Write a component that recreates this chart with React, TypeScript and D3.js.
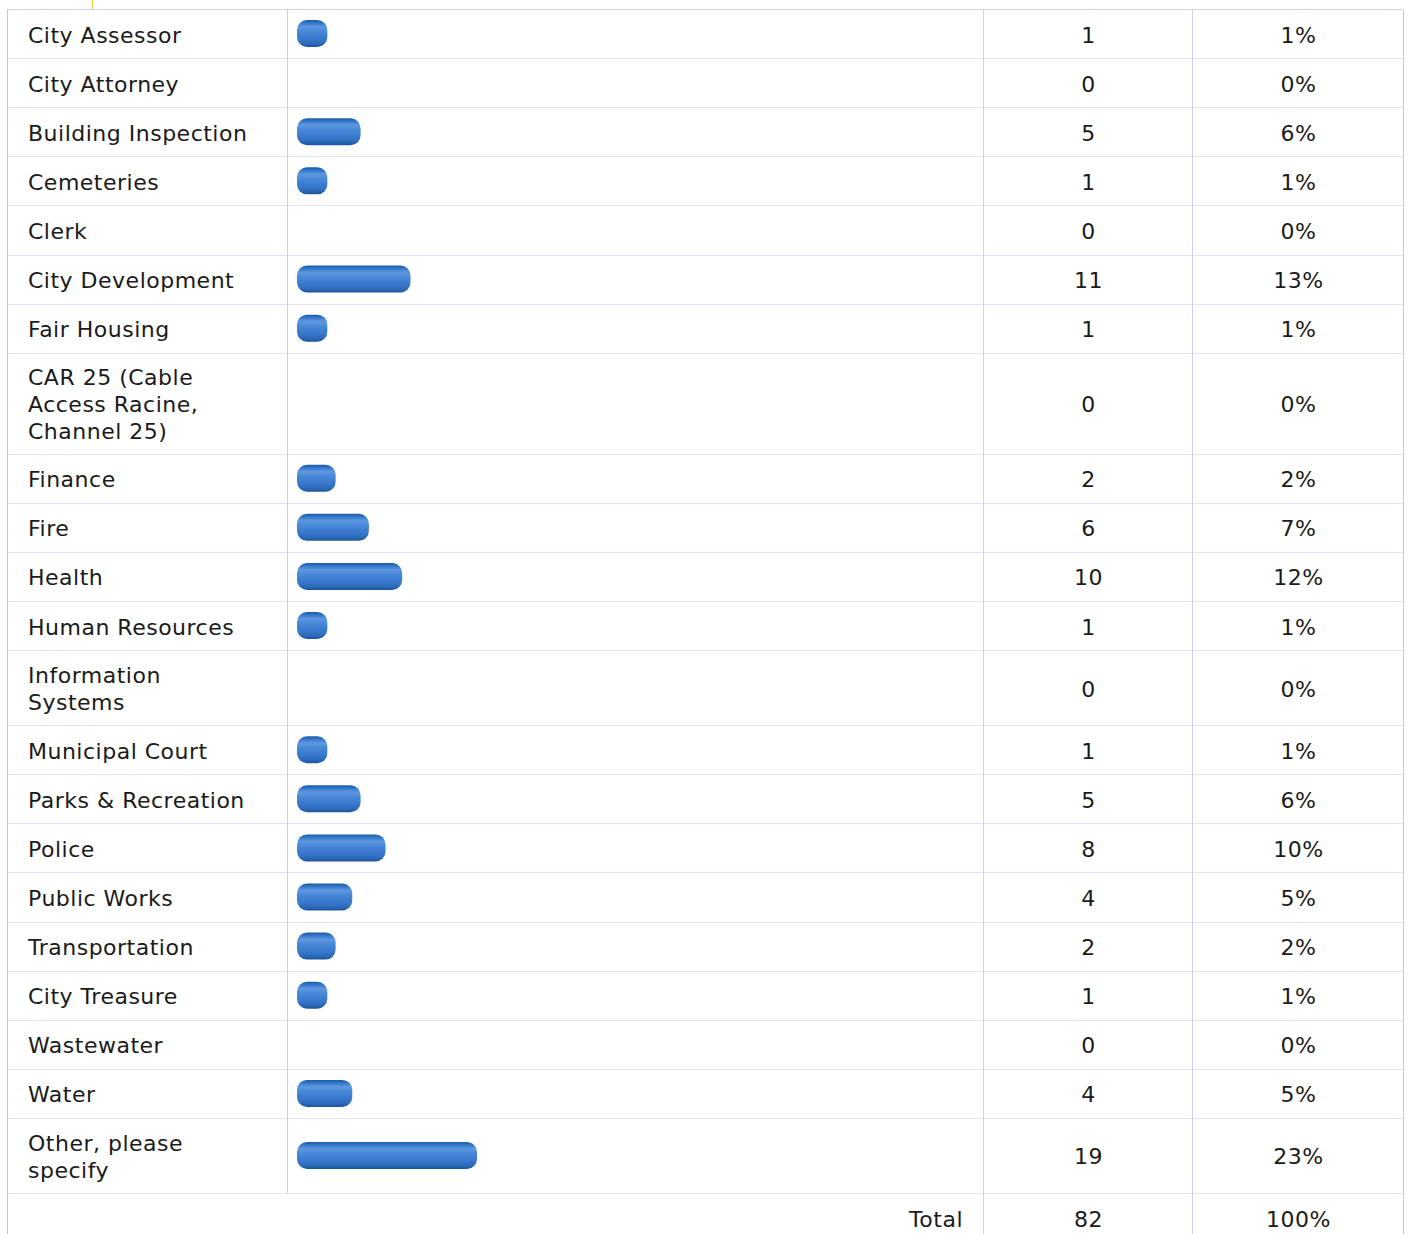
import React, { useEffect, useRef } from "react";
import * as d3 from "d3";

// survey answers, one row per department
const categories = [
  "City Assessor",
  "City Attorney",
  "Building Inspection",
  "Cemeteries",
  "Clerk",
  "City Development",
  "Fair Housing",
  "CAR 25 (Cable Access Racine, Channel 25)",
  "Finance",
  "Fire",
  "Health",
  "Human Resources",
  "Information Systems",
  "Municipal Court",
  "Parks & Recreation",
  "Police",
  "Public Works",
  "Transportation",
  "City Treasure",
  "Wastewater",
  "Water",
  "Other, please specify",
];
const counts = [1, 0, 5, 1, 0, 11, 1, 0, 2, 6, 10, 1, 0, 1, 5, 8, 4, 2, 1, 0, 4, 19];
const percents = [1, 0, 6, 1, 0, 13, 1, 0, 2, 7, 12, 1, 0, 1, 6, 10, 5, 2, 1, 0, 5, 23];
const totalLabel = "Total";
const totalPercent = 100;

const App = () => {
  const ref = useRef<SVGSVGElement>(null);

  useEffect(() => {
    const width = 1408;
    const height = 1234;
    const cols = [7, 287, 983, 1192, 1403];
    const top = 9;
    const fontSize = 22;
    const lineGap = 27;
    const maxLabel = 232;

    const svg = d3.select(ref.current);
    svg.selectAll("*").remove();
    svg.attr("width", width).attr("height", height).attr("viewBox", [0, 0, width, height]);

    const font = (sel) =>
      sel
        .attr("font-family", "'DejaVu Sans', Verdana, sans-serif")
        .attr("font-size", fontSize)
        .attr("letter-spacing", 0.5)
        .attr("fill", "#1a1a1a");

    // bar gradient
    const grad = svg
      .append("defs")
      .append("linearGradient")
      .attr("id", "barGrad")
      .attr("x1", 0)
      .attr("y1", 0)
      .attr("x2", 0)
      .attr("y2", 1);
    [
      [0, "#1b5aa3"],
      [0.1, "#2f74c8"],
      [0.25, "#5e97df"],
      [0.45, "#4787d7"],
      [0.7, "#3878cd"],
      [0.88, "#2b69b9"],
      [1, "#1c5698"],
    ].forEach(([o, c]) => grad.append("stop").attr("offset", o).attr("stop-color", c));

    // wrap labels by measuring
    const measure = svg.append("text").call(font);
    const wrap = (label) => {
      const words = label.split(" ");
      const lines = [];
      let cur = "";
      words.forEach((w) => {
        const test = cur ? cur + " " + w : w;
        measure.text(test);
        if (measure.node().getComputedTextLength() > maxLabel && cur) {
          lines.push(cur);
          cur = w;
        } else cur = test;
      });
      lines.push(cur);
      return lines;
    };

    let yPos = top;
    const rows = categories.map((c, i) => {
      const lines = wrap(c);
      const h = 49.1 + 25.95 * (lines.length - 1);
      const r = { label: c, lines, count: counts[i], pct: percents[i], y0: yPos, h };
      yPos += h;
      return r;
    });
    measure.remove();
    const totalY = yPos;
    const totalH = 49.1;

    const x = d3.scaleLinear().domain([0, d3.max(counts)]).range([22, 180]);

    // grid
    const grid = svg.append("g").attr("shape-rendering", "crispEdges");
    grid
      .append("line")
      .attr("x1", cols[0])
      .attr("x2", cols[4])
      .attr("y1", top + 0.5)
      .attr("y2", top + 0.5)
      .attr("stroke", "#d2d2f2");
    grid
      .selectAll("line.h")
      .data(rows.map((r) => r.y0 + r.h))
      .join("line")
      .attr("class", "h")
      .attr("x1", cols[0])
      .attr("x2", cols[4])
      .attr("y1", (d) => Math.round(d) + 0.5)
      .attr("y2", (d) => Math.round(d) + 0.5)
      .attr("stroke", "#e2e2f8");
    grid
      .append("line")
      .attr("x1", cols[1] + 0.5)
      .attr("x2", cols[1] + 0.5)
      .attr("y1", top)
      .attr("y2", Math.round(totalY))
      .attr("stroke", "#cbcbf2");
    [cols[2], cols[3]].forEach((cx) =>
      grid
        .append("line")
        .attr("x1", cx + 0.5)
        .attr("x2", cx + 0.5)
        .attr("y1", top)
        .attr("y2", height)
        .attr("stroke", "#cfcff4")
    );
    [
      [cols[0], top + 1, height],
      [cols[4], top + 1, height],
      [92, 0, top],
    ].forEach(([cx, a, b]) =>
      grid
        .append("line")
        .attr("x1", cx + 0.5)
        .attr("x2", cx + 0.5)
        .attr("y1", a)
        .attr("y2", b)
        .attr("stroke", "#f3c941")
    );

    // rows
    const row = svg
      .selectAll("g.row")
      .data(rows)
      .join("g")
      .attr("class", "row")
      .attr("transform", (d) => `translate(0,${d.y0 + d.h / 2})`);

    row
      .filter((d) => d.count > 0)
      .append("rect")
      .attr("x", cols[1] + 10)
      .attr("y", -13.5)
      .attr("height", 27)
      .attr("width", (d) => x(d.count))
      .attr("rx", 10)
      .attr("fill", "url(#barGrad)");

    row
      .append("text")
      .call(font)
      .selectAll("tspan")
      .data((d) => d.lines.map((l, k) => ({ l, k, n: d.lines.length })))
      .join("tspan")
      .attr("x", 28)
      .attr("y", (d) => -((d.n - 1) * lineGap) / 2 + 9 + d.k * lineGap)
      .text((d) => d.l);

    row
      .append("text")
      .call(font)
      .attr("x", (cols[2] + cols[3]) / 2 + 1)
      .attr("y", 9)
      .attr("text-anchor", "middle")
      .text((d) => d.count);

    row
      .append("text")
      .call(font)
      .attr("x", (cols[3] + cols[4]) / 2 + 1)
      .attr("y", 9)
      .attr("text-anchor", "middle")
      .text((d) => d.pct + "%");

    // total row
    const tot = svg.append("g").attr("transform", `translate(0,${totalY + totalH / 2})`);
    tot
      .append("text")
      .call(font)
      .attr("x", cols[2] - 20)
      .attr("y", 9)
      .attr("text-anchor", "end")
      .text(totalLabel);
    tot
      .append("text")
      .call(font)
      .attr("x", (cols[2] + cols[3]) / 2 + 1)
      .attr("y", 9)
      .attr("text-anchor", "middle")
      .text(d3.sum(counts));
    tot
      .append("text")
      .call(font)
      .attr("x", (cols[3] + cols[4]) / 2 + 1)
      .attr("y", 9)
      .attr("text-anchor", "middle")
      .text(totalPercent + "%");
  }, []);

  return (
    <svg
      ref={ref}
      style={{ position: "absolute", left: 0, top: 0, background: "#fff" }}
    ></svg>
  );
};

export default App;
